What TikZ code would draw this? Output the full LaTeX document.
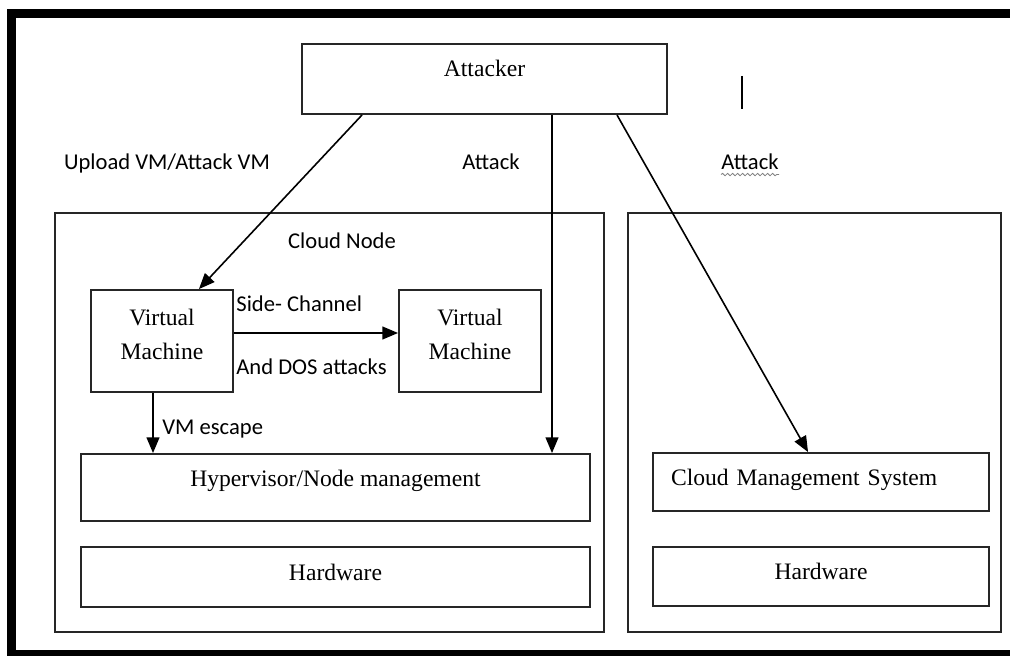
\documentclass[tikz,border=0pt]{standalone}
\usepackage{fontspec}
\setmainfont{Liberation Serif}
\newfontfamily\labelfont{Carlito}
\usetikzlibrary{calc,arrows,decorations.pathmorphing}

\tikzset{
  box/.style={draw=black!85,line width=1pt,rectangle,anchor=north west,inner sep=0pt,
    font=\fontsize{11.8}{17}\selectfont},
  lbl/.style={font=\labelfont\fontsize{11.3}{13}\selectfont,inner sep=0pt},
  arr/.style={-triangle 45,line width=0.8pt}
}

\begin{document}
\begin{tikzpicture}[x=0.5pt,y=-0.5pt]
            \useasboundingbox (0,0) rectangle (1010,656);
            \draw[line width=4.5pt] (11.5,13.5) rectangle (1040,654);

            \node[box,minimum width=182.5pt,minimum height=35pt,text height=8pt,text depth=10pt] (attacker) at (301,43) {Attacker};
            \node[box,minimum width=274.5pt,minimum height=209.5pt] (cloudnode) at (54,212) {};
            \node[box,minimum width=186.5pt,minimum height=209.5pt] (mgmtnode) at (627,212) {};

            \node[box,minimum width=71pt,minimum height=51pt,align=center,text height=25pt,text depth=6pt] (vm1) at (90,289) {Virtual\\Machine};
            \node[box,minimum width=71pt,minimum height=51pt,align=center,text height=25pt,text depth=6pt] (vm2) at (398,289) {Virtual\\Machine};
            \node[box,minimum width=254.5pt,minimum height=33.5pt,text height=8pt,text depth=9pt] (hyper) at (80,453) {Hypervisor/Node management};
            \node[box,minimum width=254.5pt,minimum height=30pt,text height=8pt,text depth=5pt] (hw1) at (80,546) {Hardware};
            \node[box,minimum height=29pt,text height=8pt,text depth=4.5pt,inner xsep=9pt,text width=150pt,align=left] (cms) at (652,452) {Cloud Management System};
            \node[box,minimum width=168pt,minimum height=29.5pt,text height=8pt,text depth=5.5pt] (hw2) at (652,546) {Hardware};

            \node[lbl,anchor=base] (upload) at (167,170) {Upload VM/Attack VM};
            \node[lbl,anchor=base] (atk1) at (491,170) {Attack};
            \node[lbl,anchor=base] (atk2) at (750,170) {Attack};
            \node[lbl,anchor=base] (cloudlbl) at (342,249) {Cloud Node};
            \node[lbl,anchor=base west] (side) at (236,312) {Side- Channel};
            \node[lbl,anchor=base west] (dos) at (236,375) {And DOS attacks};
            \node[lbl,anchor=base west] (escape) at (162,435) {VM escape};

            \draw[gray,decorate,decoration={snake,amplitude=0.6pt,segment length=2.5pt}]
              ([yshift=-2pt]atk2.south west) -- ([yshift=-2pt]atk2.south east);
            \draw[line width=1.2pt] (742,76) -- (742,109);

            \draw[arr] ([xshift=30.5pt]attacker.south west) -- ([xshift=54.5pt]vm1.north west);
            \draw[arr] ([xshift=125.5pt]attacker.south west) -- ([xshift=236pt]hyper.north west);
            \draw[arr] ([xshift=158pt]attacker.south west) -- ([xshift=78pt]cms.north west);
            \draw[arr] ([yshift=4pt]vm1.east) -- ([yshift=4pt]vm2.west);
            \draw[arr] ([xshift=31.5pt]vm1.south west) -- ([xshift=36.5pt]hyper.north west);
\end{tikzpicture}
\end{document}
